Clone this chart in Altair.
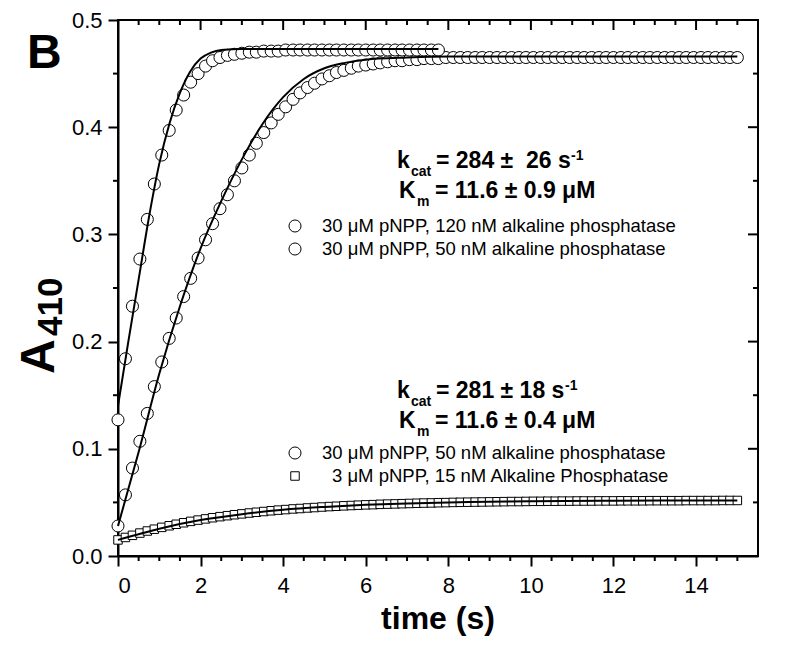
import altair as alt
import pandas as pd

FONT = "Liberation Sans"
W, H = 640, 536
PX0, PY0 = 118, 20  # page position of the plot area's top-left corner

# ---------------- data ----------------
t_fast = [0, 0.18, 0.35, 0.53, 0.71, 0.88, 1.06, 1.24, 1.41, 1.59,
          1.76, 1.94, 2.12, 2.29, 2.47, 2.65, 2.82, 3.00, 3.18, 3.35,
          3.53, 3.71, 3.88, 4.06, 4.24, 4.41, 4.59, 4.76, 4.94, 5.12,
          5.29, 5.47, 5.65, 5.82, 6.00, 6.18, 6.35, 6.53, 6.71, 6.88,
          7.06, 7.24, 7.41, 7.59, 7.76]
a_fast = [0.127, 0.184, 0.233, 0.277, 0.314, 0.347, 0.374, 0.397, 0.416, 0.430,
          0.442, 0.450, 0.457, 0.462, 0.465, 0.467, 0.468, 0.469, 0.470, 0.470,
          0.471, 0.471, 0.471, 0.472, 0.472, 0.472, 0.472, 0.472, 0.472, 0.472,
          0.472, 0.472, 0.472, 0.472, 0.472, 0.472, 0.472, 0.472, 0.472, 0.472,
          0.472, 0.472, 0.472, 0.472, 0.472]

t_slow = [0, 0.18, 0.35, 0.53, 0.71, 0.88, 1.06, 1.24, 1.41, 1.59,
          1.76, 1.94, 2.12, 2.29, 2.47, 2.65, 2.82, 3.00, 3.18, 3.35,
          3.53, 3.71, 3.88, 4.06, 4.24, 4.41, 4.59, 4.76, 4.94, 5.12,
          5.29, 5.47, 5.65, 5.82, 6.00, 6.18, 6.35, 6.53, 6.71, 6.88,
          7.06, 7.24, 7.41, 7.59, 7.76, 7.94, 8.12, 8.29, 8.47, 8.65,
          8.82, 9.00, 9.18, 9.35, 9.53, 9.71, 9.88, 10.06, 10.24, 10.41,
          10.59, 10.76, 10.94, 11.12, 11.29, 11.47, 11.65, 11.82, 12.00, 12.18,
          12.35, 12.53, 12.71, 12.88, 13.06, 13.24, 13.41, 13.59, 13.76, 13.94,
          14.12, 14.29, 14.47, 14.65, 14.82, 15.00]
a_slow = [0.028, 0.057, 0.082, 0.107, 0.133, 0.158, 0.181, 0.203, 0.222, 0.242,
          0.259, 0.278, 0.295, 0.310, 0.324, 0.337, 0.350, 0.362, 0.374, 0.385,
          0.395, 0.404, 0.412, 0.419, 0.426, 0.432, 0.437, 0.441, 0.445, 0.448,
          0.451, 0.453, 0.455, 0.457, 0.458, 0.459, 0.460, 0.461, 0.462, 0.462,
          0.463, 0.463, 0.464, 0.464, 0.464, 0.465, 0.465, 0.465, 0.465, 0.465,
          0.465, 0.465, 0.465, 0.465, 0.465, 0.465, 0.465, 0.465, 0.465, 0.465,
          0.465, 0.465, 0.465, 0.465, 0.465, 0.465, 0.465, 0.465, 0.465, 0.465,
          0.465, 0.465, 0.465, 0.465, 0.465, 0.465, 0.465, 0.465, 0.465, 0.465,
          0.465, 0.465, 0.465, 0.465, 0.465, 0.465]
t_low = t_slow
a_low = [0.0150, 0.0173, 0.0193, 0.0214, 0.0233, 0.0250, 0.0267, 0.0282, 0.0296, 0.0310,
         0.0323, 0.0335, 0.0346, 0.0357, 0.0367, 0.0376, 0.0385, 0.0393, 0.0401, 0.0408,
         0.0415, 0.0422, 0.0428, 0.0433, 0.0439, 0.0443, 0.0448, 0.0452, 0.0457, 0.0461,
         0.0464, 0.0468, 0.0471, 0.0474, 0.0477, 0.0479, 0.0482, 0.0484, 0.0486, 0.0488,
         0.0490, 0.0492, 0.0494, 0.0495, 0.0497, 0.0498, 0.0500, 0.0501, 0.0502, 0.0503,
         0.0504, 0.0505, 0.0506, 0.0507, 0.0508, 0.0508, 0.0509, 0.0510, 0.0510, 0.0511,
         0.0511, 0.0512, 0.0512, 0.0513, 0.0513, 0.0513, 0.0514, 0.0514, 0.0514, 0.0515,
         0.0515, 0.0515, 0.0515, 0.0516, 0.0516, 0.0516, 0.0516, 0.0516, 0.0517, 0.0517,
         0.0517, 0.0517, 0.0517, 0.0518, 0.0518, 0.0518]

fit_fast_t = [0, 0.25, 0.5, 0.75, 1.0, 1.25, 1.5, 1.75, 2.0, 2.25, 2.5, 3.0, 4.0, 7.76]
fit_fast_a = [0.140, 0.200, 0.258, 0.316, 0.366, 0.404, 0.432, 0.452, 0.464, 0.4695, 0.472, 0.473, 0.473, 0.473]
fit_slow_t = [0, 0.5, 1.0, 1.5, 2.0, 2.5, 3.0, 3.5, 4.0, 4.5, 5.0, 5.5, 6.0, 7.0, 8.0, 15.0]
fit_slow_a = [0.028, 0.097, 0.170, 0.233, 0.287, 0.331, 0.370, 0.403, 0.428, 0.445, 0.455, 0.460, 0.463, 0.465, 0.466, 0.466]
fit_low_t = [0, 1, 2, 3, 4, 5, 6, 7, 8, 9, 10, 12, 15]
fit_low_a = [0.015, 0.0255, 0.0335, 0.039, 0.0432, 0.0458, 0.0477, 0.049, 0.050, 0.0505, 0.051, 0.0515, 0.0518]

x_major = [0, 2, 4, 6, 8, 10, 12, 14]
x_minor = [0.5, 1, 1.5, 2.5, 3, 3.5, 4.5, 5, 5.5, 6.5, 7, 7.5, 8.5, 9, 9.5,
           10.5, 11, 11.5, 12.5, 13, 13.5, 14.5, 15]
y_major = [0.0, 0.1, 0.2, 0.3, 0.4, 0.5]
y_minor = [0.05, 0.15, 0.25, 0.35, 0.45]

# ---------------- scales / axes ----------------
xs = alt.Scale(domain=[0, 15.5], nice=False, zero=False)
ys = alt.Scale(domain=[0, 0.5], nice=False)
xaxis = alt.Axis(values=x_major, tickSize=10, tickWidth=2, tickColor="black",
                 domainWidth=2, domainColor="black", labelFontSize=22, labelFont=FONT,
                 labelColor="black", labelPadding=9, grid=False, title=None, format="d")
yaxis = alt.Axis(values=y_major, tickSize=10, tickWidth=2, tickColor="black",
                 domainWidth=2, domainColor="black", labelFontSize=22, labelFont=FONT,
                 labelColor="black", labelPadding=6, grid=False, title=None, format=".1f")


def df(t, a):
    return pd.DataFrame({"t": t, "a": a})


def pts(t, a, shape, size):
    return alt.Chart(df(t, a)).mark_point(
        shape=shape, size=size, filled=True, fill="white", stroke="black",
        strokeWidth=1, opacity=1
    ).encode(x=alt.X("t:Q", scale=xs, axis=xaxis), y=alt.Y("a:Q", scale=ys, axis=yaxis))


def fit(t, a):
    return alt.Chart(df(t, a)).mark_line(color="black", strokeWidth=2, interpolate="monotone").encode(
        x=alt.X("t:Q", scale=xs, axis=xaxis), y=alt.Y("a:Q", scale=ys, axis=yaxis))


def xticks(vals, y1, y2):
    return alt.Chart(pd.DataFrame({"v": vals})).mark_rule(color="black", strokeWidth=2).encode(
        x=alt.X("v:Q", scale=xs, axis=xaxis), y=alt.value(y1), y2=alt.value(y2))


def yticks(vals, x1, x2):
    return alt.Chart(pd.DataFrame({"v": vals})).mark_rule(color="black", strokeWidth=2).encode(
        y=alt.Y("v:Q", scale=ys, axis=yaxis), x=alt.value(x1), x2=alt.value(x2))


one = alt.Data(values=[{}])


def label(txt, px, py, size, weight="normal", align="left", angle=0):
    return alt.Chart(one).mark_text(
        text=txt, font=FONT, fontSize=size, fontWeight=weight, align=align,
        baseline="alphabetic", angle=angle, color="black"
    ).encode(x=alt.value(px - PX0), y=alt.value(py - PY0))


def symbol(shape, size, px, py):
    return alt.Chart(one).mark_point(
        shape=shape, size=size, filled=True, fill="white", stroke="black", strokeWidth=1, opacity=1
    ).encode(x=alt.value(px - PX0), y=alt.value(py - PY0))


CIRC, SQ = 145, 72
RF = 18.5  # legend row font size
layers = [
    xticks(x_minor, H, H + 5),
    xticks(x_major, 0, 10),
    xticks(x_minor, 0, 5),
    yticks(y_minor, 0, -5),
    yticks(y_major, W, W - 10),
    yticks(y_minor, W, W - 5),
    pts(t_low, a_low, "square", SQ),
    pts(t_slow, a_slow, "circle", CIRC),
    pts(t_fast, a_fast, "circle", CIRC),
    fit(fit_low_t, fit_low_a),
    fit(fit_slow_t, fit_slow_a),
    fit(fit_fast_t, fit_fast_a),
    # panel letter and axis titles
    label("B", 27, 68, 48, "bold"),
    label("time (s)", 438, 629, 32, "bold", align="center"),
    label("A", 54, 374, 48, "bold", angle=270),
    label("410", 62, 336, 35, "bold", angle=270),
    # upper annotation block
    label("k", 397, 168, 23, "bold"),
    label("cat", 411, 176, 14, "bold"),
    label("=\u00a0284\u00a0±\u00a0\u00a026\u00a0s", 436, 168, 23, "bold"),
    label("-1", 571, 160, 14, "bold"),
    label("K", 399, 198, 23, "bold"),
    label("m", 417, 206, 14, "bold"),
    label("=\u00a011.6\u00a0±\u00a00.9\u00a0μM", 435, 198, 23, "bold"),
    symbol("circle", CIRC, 295, 226),
    label("30 μM pNPP, 120 nM alkaline phosphatase", 322, 232, RF),
    symbol("circle", CIRC, 295, 249),
    label("30 μM pNPP, 50 nM alkaline phosphatase", 322, 255, RF),
    # lower annotation block
    label("k", 397, 398, 23, "bold"),
    label("cat", 411, 406, 14, "bold"),
    label("=\u00a0281\u00a0±\u00a018\u00a0s", 436, 398, 23, "bold"),
    label("-1", 565, 390, 14, "bold"),
    label("K", 399, 428, 23, "bold"),
    label("m", 417, 436, 14, "bold"),
    label("=\u00a011.6\u00a0±\u00a00.4\u00a0μM", 435, 428, 23, "bold"),
    symbol("circle", CIRC, 295, 453),
    label("30 μM pNPP, 50 nM alkaline phosphatase", 322, 459, RF),
    symbol("square", SQ, 295, 476),
    label("3 μM pNPP, 15 nM Alkaline Phosphatase", 332, 482, RF),
]

chart = alt.layer(*layers).properties(
    width=W, height=H,
    autosize=alt.AutoSizeParams(type="none"),
    padding={"left": 110, "top": 12, "right": 34, "bottom": 81},
    background="white",
).configure_view(stroke="black", strokeWidth=2)

chart.save("out.html", embed_options={"renderer": "svg", "actions": False})
